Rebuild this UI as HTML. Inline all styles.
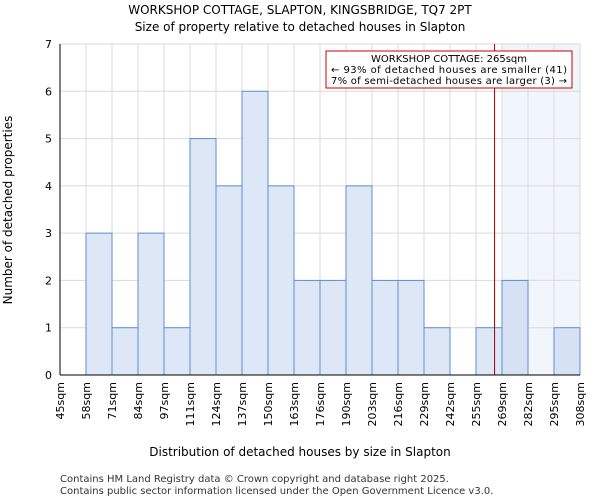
<!DOCTYPE html>
<html><head><meta charset="utf-8"><style>
body{margin:0;background:#fff;font-family:"DejaVu Sans","Liberation Sans",sans-serif}
</style></head><body>
<svg id="chart" width="600" height="500" xmlns="http://www.w3.org/2000/svg" font-family="DejaVu Sans, Liberation Sans, sans-serif">
<text x="300" y="14" text-anchor="middle" font-size="12">WORKSHOP COTTAGE, SLAPTON, KINGSBRIDGE, TQ7 2PT</text>
<text x="300" y="31" text-anchor="middle" font-size="12">Size of property relative to detached houses in Slapton</text>
<g id="plot"></g>
<text x="300" y="456" text-anchor="middle" font-size="12">Distribution of detached houses by size in Slapton</text>
<text transform="translate(12,210) rotate(-90)" text-anchor="middle" font-size="12">Number of detached properties</text>
<text x="60" y="482" font-size="10" fill="#333">Contains HM Land Registry data © Crown copyright and database right 2025.</text>
<text x="60" y="494" font-size="10" fill="#333">Contains public sector information licensed under the Open Government Licence v3.0.</text>
</svg>
<script>
const edgeLabels=["45sqm","58sqm","71sqm","84sqm","97sqm","111sqm","124sqm","137sqm","150sqm","163sqm","176sqm","190sqm","203sqm","216sqm","229sqm","242sqm","255sqm","269sqm","282sqm","295sqm","308sqm"];
const counts=[0,3,1,3,1,5,4,6,4,2,2,4,2,2,1,0,1,2,0,1];
const yTicks=[0,1,2,3,4,5,6,7];
const propertySize=265;
const highlightStartBin=17;
const X0=60,X1=580,Y0=375,Y1=44,YMAX=7;
const nb=counts.length,bw=(X1-X0)/nb;
const xb=i=>X0+i*bw;
const y=v=>Y0-(v/YMAX)*(Y0-Y1);
const edgeVals=edgeLabels.map(s=>parseFloat(s));
function xv(v){for(let i=0;i<nb;i++){if(v>=edgeVals[i]&&v<=edgeVals[i+1])return xb(i)+(v-edgeVals[i])/(edgeVals[i+1]-edgeVals[i])*bw;}return X1;}
const g=document.getElementById('plot');const NS="http://www.w3.org/2000/svg";
function mk(t,a){const e=document.createElementNS(NS,t);for(const k in a)e.setAttribute(k,a[k]);g.appendChild(e);return e;}
let e=mk('rect',{x:xb(highlightStartBin),y:Y1,width:X1-xb(highlightStartBin),height:Y0-Y1,fill:'#f1f5fc'});


for(let i=0;i<=nb;i++){e=mk('line',{x1:xb(i),x2:xb(i),y1:Y1,y2:Y0,stroke:'#dadada','stroke-width':1});

}
yTicks.forEach(t=>{e=mk('line',{x1:X0,x2:X1,y1:y(t),y2:y(t),stroke:'#dadada','stroke-width':1});


e=mk('text',{x:X0-8,y:y(t)+4,'text-anchor':'end','font-size':11});e.textContent=t;

});
counts.forEach((c,i)=>{if(c<=0)return;e=mk('rect',{x:xb(i),y:y(c),width:bw,height:Y0-y(c),fill:i>=highlightStartBin?'#d6e2f4':'#dde7f5',stroke:'#5b8fd6','stroke-width':1});

});
edgeLabels.forEach((l,i)=>{e=mk('text',{transform:`translate(${xb(i)+4},382) rotate(-90)`,'text-anchor':'end','font-size':11});e.textContent=l;

});
e=mk('line',{x1:X0,x2:X0,y1:Y1,y2:Y0,stroke:'#000'});


e=mk('line',{x1:X0,x2:X1,y1:Y0,y2:Y0,stroke:'#000'});


const px=xv(propertySize);
e=mk('line',{x1:px,x2:px,y1:Y1,y2:Y0,stroke:'#990000','stroke-width':1});


e=mk('rect',{x:326,y:51,width:246,height:37,fill:'#fff',stroke:'#cc0000','stroke-width':1});


["WORKSHOP COTTAGE: 265sqm","← 93% of detached houses are smaller (41)","7% of semi-detached houses are larger (3) →"].forEach((t,i)=>{e=mk('text',{x:449,y:62+i*11,'text-anchor':'middle','font-size':10,textLength:i==0?null:236});if(i==0)e.removeAttribute('textLength');e.textContent=t;

});
</script>
</body></html>
